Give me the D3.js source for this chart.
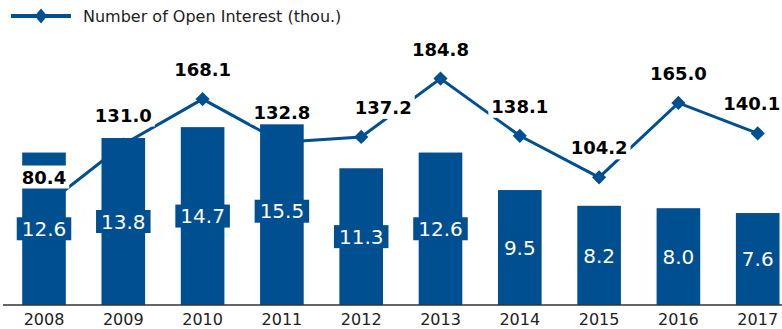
<!DOCTYPE html>
<html>
<head>
<meta charset="utf-8">
<script src="https://cdn.jsdelivr.net/npm/d3@7"></script>
<style>
  html, body { margin: 0; padding: 0; background: #ffffff; }
  svg { display: block; font-family: "DejaVu Sans", Verdana, sans-serif; }
</style>
</head>
<body>
<svg id="chart" width="782" height="329"></svg>
<script>
// Years on the x axis
const years = ["2008", "2009", "2010", "2011", "2012", "2013", "2014", "2015", "2016", "2017"];
// Bar series (value shown inside each bar)
const barValues = [12.6, 13.8, 14.7, 15.5, 11.3, 12.6, 9.5, 8.2, 8.0, 7.6];
// Line series: number of open interest (thousands)
const openInterest = [80.4, 131.0, 168.1, 132.8, 137.2, 184.8, 138.1, 104.2, 165.0, 140.1];
const legendLabel = "Number of Open Interest (thou.)";

const BLUE = "#004f91";
const W = 782, H = 329;
const baseY = 305;

const svg = d3.select("#chart");

const x = d3.scaleBand()
  .domain(years)
  .range([4.35, 797.35])
  .paddingInner(0.45)
  .paddingOuter(0.225);

const yBar = d3.scaleLinear().domain([0, 20]).range([baseY, baseY - 242]);
const yLine = d3.scaleLinear().domain([0, 200]).range([baseY, baseY - 245]);

const cx = d => x(d) + x.bandwidth() / 2;

// ---- line + markers (drawn first, bars sit over them) ----
const pts = years.map((yr, i) => ({ yr, v: openInterest[i] }));

svg.append("path")
  .datum(pts)
  .attr("fill", "none")
  .attr("stroke", BLUE)
  .attr("stroke-width", 3)
  .attr("stroke-linejoin", "miter")
  .attr("d", d3.line().x(d => cx(d.yr)).y(d => yLine(d.v)));

const diamond = d3.symbol().type(d3.symbolSquare).size(100);
svg.append("g").selectAll("path")
  .data(pts)
  .join("path")
  .attr("d", diamond)
  .attr("fill", BLUE)
  .attr("transform", d => `translate(${cx(d.yr)},${yLine(d.v)}) rotate(45)`);

// ---- bars ----
const bars = years.map((yr, i) => ({ yr, v: barValues[i] }));

svg.append("g").selectAll("rect")
  .data(bars)
  .join("rect")
  .attr("x", d => x(d.yr))
  .attr("width", x.bandwidth())
  .attr("y", d => yBar(d.v))
  .attr("height", d => baseY - yBar(d.v))
  .attr("fill", BLUE);

// bar value labels, centred in each bar on a bar-coloured tag
const barLbl = svg.append("g").selectAll("g")
  .data(bars)
  .join("g")
  .attr("transform", d => `translate(${cx(d.yr)},${(yBar(d.v) + baseY) / 2})`);

barLbl.append("text")
  .attr("text-anchor", "middle")
  .attr("dy", "0.36em")
  .attr("font-size", 20)
  .attr("fill", "#ffffff")
  .text(d => d.v.toFixed(1))
  .each(function () {
    const b = this.getBBox();
    d3.select(this.parentNode).insert("rect", "text")
      .attr("x", b.x - 5)
      .attr("y", -11.5)
      .attr("width", b.width + 10)
      .attr("height", 23)
      .attr("fill", BLUE);
  });

// ---- axis ----
svg.append("line")
  .attr("x1", 3).attr("x2", W)
  .attr("y1", baseY).attr("y2", baseY)
  .attr("stroke", "#333333")
  .attr("stroke-width", 1.5);

const axis = svg.append("g")
  .attr("transform", `translate(0,${baseY})`)
  .call(d3.axisBottom(x).tickSize(0).tickPadding(9));
axis.select(".domain").remove();
axis.selectAll("text")
  .attr("font-family", "\"DejaVu Sans\", Verdana, sans-serif")
  .attr("font-size", 16)
  .attr("fill", "#222222");

// ---- line value labels on white tags ----
const nudge = { "2012": 22, "2017": -6 };
const lineLbl = svg.append("g").selectAll("g")
  .data(pts)
  .join("g")
  .attr("transform", d => `translate(${cx(d.yr) + (nudge[d.yr] || 0)},${yLine(d.v) - 23})`);

lineLbl.append("text")
  .attr("text-anchor", "middle")
  .attr("font-size", 18)
  .attr("font-weight", "bold")
  .attr("fill", "#000000")
  .text(d => d.v.toFixed(1))
  .each(function () {
    const b = this.getBBox();
    d3.select(this.parentNode).insert("rect", "text")
      .attr("x", b.x - 3)
      .attr("y", -18)
      .attr("width", b.width + 6)
      .attr("height", 23)
      .attr("fill", "#ffffff");
  });

// ---- legend ----
const lg = svg.append("g").attr("transform", "translate(11,16)");
lg.append("line")
  .attr("x1", 0).attr("x2", 60)
  .attr("stroke", BLUE).attr("stroke-width", 4);
lg.append("path")
  .attr("d", "M30,-7.5L36.2,0L30,7.5L23.8,0Z")
  .attr("fill", BLUE);
lg.append("text")
  .attr("x", 72)
  .attr("dy", "0.36em")
  .attr("font-size", 16)
  .attr("fill", "#222222")
  .text(legendLabel);
</script>
</body>
</html>
